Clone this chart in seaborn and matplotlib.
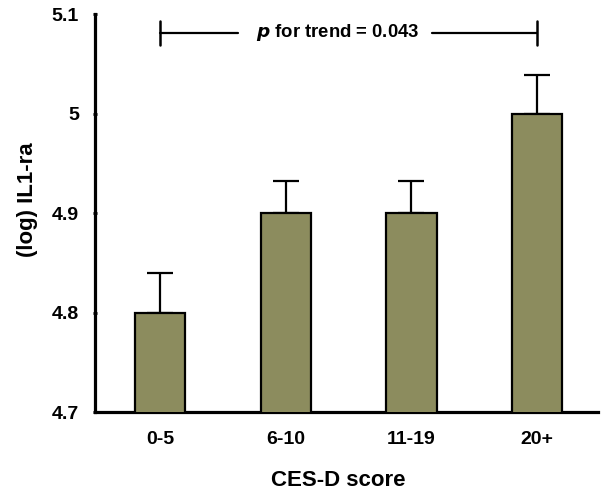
import matplotlib
matplotlib.use("Agg")
import matplotlib.pyplot as plt
import seaborn as sns
import numpy as np
import pandas as pd

categories = ["0-5", "6-10", "11-19", "20+"]
means = [4.80, 4.90, 4.90, 5.00]
upper_err = [0.040, 0.032, 0.032, 0.039]
trend_label = "for trend = 0.043"

sns.set_theme(style="white")
plt.rcParams['font.family'] = ['Liberation Sans', 'DejaVu Sans']

fig = plt.figure(figsize=(6.04, 4.92), dpi=100)
ax = fig.add_axes([0.1573, 0.1626, 0.8327, 0.8089])

df = pd.DataFrame({"score": categories, "il1ra": means})
sns.barplot(data=df, x="score", y="il1ra", color="#8c8c5e", width=0.4,
            edgecolor="black", linewidth=1.6, saturation=1, ax=ax, zorder=3)

x = np.arange(len(categories))
ax.errorbar(x, means, yerr=[np.zeros(len(means)), upper_err], fmt="none",
            ecolor="black", elinewidth=1.6, capsize=9.5, capthick=1.6, zorder=2)

ax.set_ylim(4.7, 5.1)
ax.set_xlim(-0.517, 3.483)
ax.set_yticks([4.7, 4.8, 4.9, 5.0, 5.1])
ax.set_yticklabels(["4.7", "4.8", "4.9", "5", "5.1"])

for s in ["top", "right"]:
    ax.spines[s].set_visible(False)
for s in ["left", "bottom"]:
    ax.spines[s].set_linewidth(2.3)
    ax.spines[s].set_color("black")

ax.tick_params(axis="y", length=3, width=2, direction="inout", pad=10,
               labelsize=14, colors="black", left=True)
ax.tick_params(axis="x", length=0, pad=14, labelsize=14, colors="black")
for lab in ax.get_xticklabels() + ax.get_yticklabels():
    lab.set_fontweight("bold")

ax.set_xlabel("CES-D score", fontsize=16, fontweight="bold", color="black")
ax.set_ylabel("(log) IL1-ra", fontsize=16, fontweight="bold", color="black")
ax.xaxis.label.set_va("center")
ax.yaxis.label.set_va("center")
ax.xaxis.set_label_coords(0.483, -0.171)
ax.yaxis.set_label_coords(-0.135, 0.533)

# trend bracket
yb = 5.081
ax.plot([0, 0.62], [yb, yb], color="black", lw=1.6, clip_on=False)
ax.plot([2.16, 3], [yb, yb], color="black", lw=1.6, clip_on=False)
ax.plot([0, 0], [yb - 0.012, yb + 0.012], color="black", lw=1.8, clip_on=False)
ax.plot([3, 3], [yb - 0.012, yb + 0.012], color="black", lw=1.8, clip_on=False)
ax.text(1.41, yb, r"$\mathbfit{p}$ " + trend_label, ha="center", va="center",
        fontsize=13.3, fontweight="bold", color="black")

fig.savefig("out.png", dpi=100)
